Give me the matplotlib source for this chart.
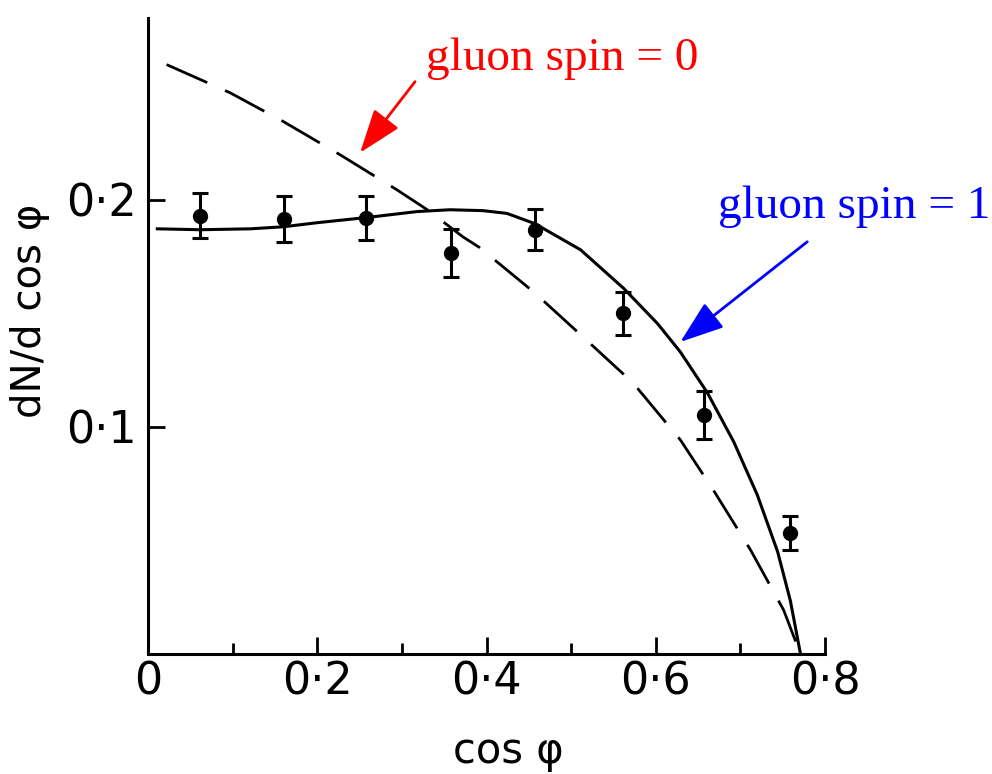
import matplotlib.pyplot as plt

plt.rcParams['font.family'] = ['DejaVu Sans']

# measured points with error bars
x_pts = [0.061, 0.161, 0.257, 0.358, 0.457, 0.561, 0.657, 0.758]
y_pts = [0.193, 0.1916, 0.192, 0.1767, 0.1868, 0.150, 0.1053, 0.0533]
y_err = [0.010, 0.010, 0.0097, 0.0106, 0.0091, 0.0095, 0.0107, 0.0075]

# gluon spin = 1 (solid)
x_spin1 = [0.011, 0.062, 0.121, 0.160, 0.200, 0.259, 0.318, 0.357, 0.396, 0.424,
           0.457, 0.511, 0.562, 0.602, 0.629, 0.661, 0.692, 0.720, 0.744, 0.759, 0.771]
y_spin1 = [0.1872, 0.1868, 0.1872, 0.1881, 0.1899, 0.1922, 0.1948, 0.1956, 0.1952, 0.1940,
           0.1895, 0.178, 0.1610, 0.1455, 0.1330, 0.1150, 0.0935, 0.0700, 0.0450, 0.0235, 0.0]

# gluon spin = 0 (dashed)
x_spin0 = [0.022, 0.097, 0.160, 0.227, 0.294, 0.330, 0.372, 0.392, 0.457, 0.514,
           0.573, 0.629, 0.668, 0.712, 0.751, 0.771]
y_spin0 = [0.2595, 0.2471, 0.2344, 0.2198, 0.2044, 0.1956, 0.1837, 0.1789, 0.159, 0.1396,
           0.1194, 0.0943, 0.0722, 0.0458, 0.0194, 0.0]

x_ticks = [0, 0.2, 0.4, 0.6, 0.8]
x_labels = ['0', '0·2', '0·4', '0·6', '0·8']
y_ticks = [0.1, 0.2]
y_labels = ['0·1', '0·2']

fig = plt.figure(figsize=(9.92, 7.74), dpi=100)
ax = fig.add_axes([0.1492, 0.155, 0.6825, 0.8217])

ax.plot(x_spin1, y_spin1, color='black', lw=2.2)
ax.plot(x_spin0, y_spin0, color='black', lw=2.0, linestyle=(0, (16, 7)))
ax.errorbar(x_pts, y_pts, yerr=y_err, fmt='o', color='black', markersize=10,
            elinewidth=2.2, capsize=6, capthick=2.2)

ax.set_xlim(0, 0.8)
ax.set_ylim(0, 0.28)
for s in ['top', 'right']:
    ax.spines[s].set_visible(False)
for s in ['left', 'bottom']:
    ax.spines[s].set_linewidth(2.2)

ax.set_xticks(x_ticks)
ax.set_xticklabels(x_labels)
ax.set_xticks([0.1, 0.3, 0.5, 0.7], minor=True)
ax.set_yticks(y_ticks)
ax.set_yticklabels(y_labels)
ax.tick_params(axis='both', which='major', direction='in', length=12, width=2,
               labelsize=32)
ax.tick_params(axis='x', which='minor', direction='in', length=8, width=2)
ax.tick_params(axis='x', which='major', pad=5)
ax.tick_params(axis='y', which='major', pad=8)

ax.set_xlabel('cos φ', fontsize=30)
ax.xaxis.set_label_coords(0.532, -0.12)
ax.set_ylabel('dN/d cos φ', fontsize=29)
ax.yaxis.set_label_coords(-0.145, 0.54)

# annotations
ax.text(0.329, 0.257, 'gluon spin = 0', color='red', fontsize=34,
        family='Liberation Serif', ha='left', va='baseline')
ax.annotate('', xy=(0.2506, 0.2207), xytext=(0.3156, 0.252),
            arrowprops=dict(arrowstyle='-|>,head_length=0.9,head_width=0.32',
                            mutation_scale=30, color='red', lw=2,
                            shrinkA=0, shrinkB=0))
ax.text(0.674, 0.192, 'gluon spin = 1', color='blue', fontsize=34,
        family='Liberation Serif', ha='left', va='baseline', clip_on=False)
ax.annotate('', xy=(0.629, 0.1374), xytext=(0.779, 0.1815),
            arrowprops=dict(arrowstyle='-|>,head_length=0.9,head_width=0.32',
                            mutation_scale=30, color='blue', lw=2,
                            shrinkA=0, shrinkB=0))

fig.savefig('out.png', dpi=100)
